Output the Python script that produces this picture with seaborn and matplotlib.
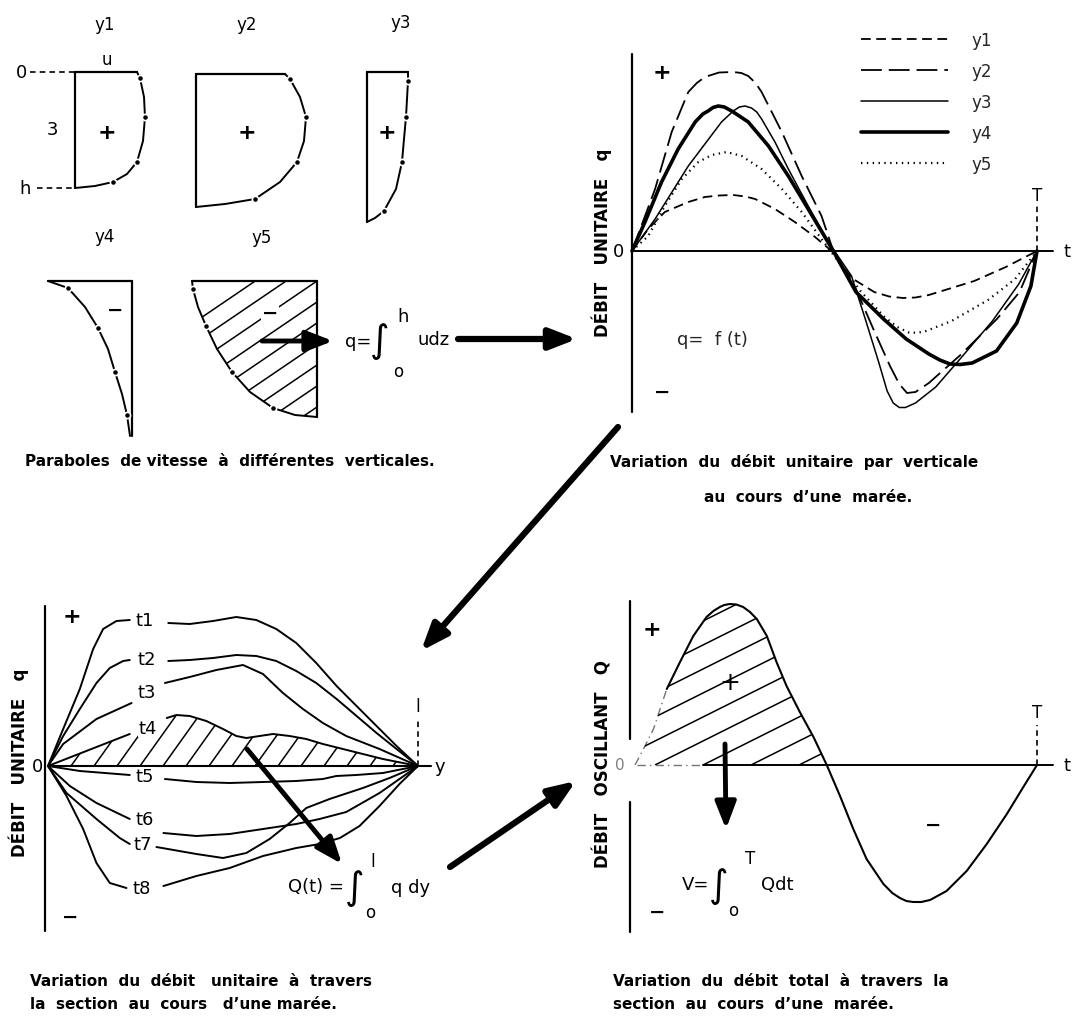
import numpy as np
import matplotlib

matplotlib.use("Agg")
import matplotlib.pyplot as plt
from matplotlib.collections import LineCollection
import seaborn as sns

W, H = 1073, 1020

# ---------------------------------------------------------------- data
# velocity profiles at the five verticals: u (velocity) against z (depth)
y1_u = [6.2, 6.5, 6.9, 7.0, 6.8, 6.2, 5.2, 3.8, 2.0, 0.0]
y1_z = [0.0, 0.6, 2.5, 4.5, 6.9, 9.0, 10.2, 11.0, 11.4, 11.6]
y2_u = [8.9, 9.4, 10.4, 11.0, 10.8, 10.1, 8.4, 5.9, 2.9, 0.0]
y2_z = [0.0, 0.5, 2.3, 4.3, 6.7, 8.8, 10.8, 12.5, 13.0, 13.3]
y3_u = [4.1, 4.1, 4.0, 3.9, 3.7, 3.5, 2.9, 1.7, 0.8, 0.0]
y3_z = [0.0, 0.9, 2.7, 4.5, 6.7, 9.0, 11.7, 13.9, 14.6, 15.0]
y4_u = [-8.4, -6.4, -4.7, -3.4, -2.4, -1.7, -1.0, -0.5, -0.2]
y4_z = [0.0, 0.7, 2.6, 4.7, 6.8, 9.1, 11.3, 13.4, 15.5]
y5_u = [-12.5, -12.4, -11.9, -11.1, -10.0, -8.5, -6.7, -4.4, -2.2, 0.0]
y5_z = [0.0, 0.8, 2.6, 4.5, 6.8, 9.1, 11.1, 12.7, 13.4, 13.6]
measured_idx = [1, 3, 5, 7]

# unit discharge q = f(t) at each vertical over one tide (t in T units)
q_y1_t = [0, .040, .081, .139, .180, .215, .250, .280, .304, .353, .402, .452, .493,
          .542, .598, .635, .669, .700, .733, .845, .923, 1.0]
q_y1 = [0, .22, .39, .49, .54, .555, .56, .545, .52, .42, .29, .14, 0,
        -.27, -.41, -.455, -.47, -.465, -.44, -.30, -.16, 0]
q_y2_t = [0, .057, .098, .139, .160, .180, .215, .250, .270, .287, .305, .320, .370, .419, .468, .497,
          .553, .598, .637, .660, .679, .700, .733, .811, .901, .957, 1.0]
q_y2 = [0, .62, 1.19, 1.59, 1.68, 1.74, 1.785, 1.79, 1.78, 1.75, 1.68, 1.59, 1.19, .75, .35, 0,
        -.38, -.80, -1.15, -1.33, -1.42, -1.41, -1.32, -1.04, -.68, -.41, 0]
q_y3_t = [0, .057, .139, .221, .250, .265, .279, .295, .308, .320, .353, .386, .435, .477, .50,
          .542, .576, .609, .630, .645, .660, .675, .70, .75, .81, .89, .955, 1.0]
q_y3 = [0, .32, .85, 1.29, 1.40, 1.44, 1.45, 1.43, 1.39, 1.32, 1.09, .82, .45, .15, 0,
        -.25, -.68, -1.11, -1.40, -1.52, -1.565, -1.565, -1.52, -1.36, -1.08, -.70, -.33, 0]
q_y4_t = [0, .032, .073, .114, .156, .175, .188, .200, .213, .228, .246, .265, .287, .337, .386, .435, .497,
          .553, .621, .677, .733, .760, .785, .810, .84, .90, .95, .985, 1.0]
q_y4 = [0, .29, .69, 1.02, 1.29, 1.37, 1.40, 1.435, 1.45, 1.44, 1.40, 1.35, 1.29, 1.05, .75, .42, 0,
        -.41, -.68, -.88, -1.03, -1.09, -1.13, -1.135, -1.12, -1.0, -.72, -.35, 0]
q_y5_t = [0, .040, .081, .123, .164, .197, .234, .271, .320, .370, .419, .468, .49,
          .564, .621, .655, .686, .720, .789, .879, .946, 1.0]
q_y5 = [0, .15, .45, .72, .89, .96, .99, .95, .82, .62, .39, .12, 0,
        -.40, -.65, -.76, -.82, -.81, -.70, -.49, -.28, 0]
verticals = ["y1", "y2", "y3", "y4", "y5"]

# unit discharge across the section (y in units of l) at eight instants
t1_s = [0, .041, .086, .122, .149, .185, .221, .27, .325, .383, .446, .509, .563, .617, .671, .725, .780, .834, .888, .942, 1.0]
t1_q = [0, .37, .77, 1.17, 1.37, 1.45, 1.46, np.nan, 1.43, 1.42, 1.45, 1.49, 1.46, 1.37, 1.23, 1.03, .80, .60, .40, .20, 0]
t2_s = [0, .041, .086, .131, .167, .203, .221, .27, .325, .383, .446, .509, .563, .617, .671, .725, .780, .834, .888, .942, 1.0]
t2_q = [0, .30, .57, .83, .98, 1.05, 1.06, np.nan, 1.05, 1.06, 1.08, 1.11, 1.10, 1.05, .95, .83, .67, .50, .33, .17, 0]
t3_s = [0, .041, .131, .226, .27, .316, .383, .455, .527, .581, .635, .689, .743, .806, .896, 1.0]
t3_q = [0, .22, .47, .63, np.nan, .83, .89, .96, 1.01, .92, .73, .57, .43, .30, .17, 0]
t4_s = [0, .221, .27, .321, .347, .383, .428, .473, .509, .536, .572, .608, .653, .698, .743, .797, .851, .905, 1.0]
t4_q = [0, .32, np.nan, .48, .51, .50, .45, .37, .30, .28, .30, .32, .30, .27, .22, .17, .12, .07, 0]
t5_s = [0, .086, .221, .27, .316, .401, .491, .581, .671, .743, .779, .833, .905, 1.0]
t5_q = [0, -.05, -.09, np.nan, -.13, -.16, -.17, -.16, -.15, -.13, -.10, -.09, -.07, 0]
t6_s = [0, .059, .131, .221, .265, .312, .401, .491, .581, .671, .734, .806, .896, 1.0]
t6_q = [0, -.20, -.37, -.53, np.nan, -.67, -.70, -.68, -.63, -.58, -.53, -.46, -.27, 0]
t7_s = [0, .050, .131, .194, .221, .257, .293, .401, .473, .536, .599, .653, .698, .761, .851, .923, 1.0]
t7_q = [0, -.27, -.53, -.72, -.78, np.nan, -.81, -.88, -.92, -.87, -.73, -.57, -.42, -.33, -.22, -.12, 0]
t8_s = [0, .050, .095, .131, .167, .212, .26, .312, .401, .491, .581, .671, .734, .789, .842, .896, .950, 1.0]
t8_q = [0, -.30, -.63, -.97, -1.17, -1.22, np.nan, -1.20, -1.10, -1.02, -.90, -.82, -.78, -.72, -.60, -.40, -.18, 0]
instants = ["t1", "t2", "t3", "t4", "t5", "t6", "t7", "t8"]

# total oscillating discharge Q(t) through the section
Q_tau = [0, .021, .046, .079, .112, .145, .178, .195, .211, .222, .236, .252, .269, .286, .303, .328, .352,
         .377, .410, .444, .477, .510, .543, .576, .618, .640, .659, .675, .692, .712, .734, .775, .825,
         .875, .925, .966, 1.0]
Q_val = [0, .16, .36, .76, 1.03, 1.29, 1.48, 1.54, 1.58, 1.60, 1.61, 1.605, 1.58, 1.53, 1.46, 1.29, 1.03,
         .79, .53, .28, 0, -.31, -.64, -.94, -1.19, -1.28, -1.33, -1.36, -1.37, -1.37, -1.35, -1.26, -1.06,
         -.79, -.49, -.22, 0]

# ---------------------------------------------------------------- style
sns.set_style("white")
plt.rcParams["font.family"] = ["DejaVu Sans"]
plt.rcParams["lines.scale_dashes"] = False
plt.rcParams["lines.solid_capstyle"] = "round"
plt.rcParams["lines.solid_joinstyle"] = "round"

fig = plt.figure(figsize=(W / 100, H / 100), dpi=100)


def panel(box, origin, unit):
    """Axes over a pixel box; data v maps to pixel origin + v * unit (y upward)."""
    x0, y0, x1, y1 = box
    ax = fig.add_axes([x0 / W, 1 - y1 / H, (x1 - x0) / W, (y1 - y0) / H])
    ax.set_xlim((x0 - origin[0]) / unit[0], (x1 - origin[0]) / unit[0])
    ax.set_ylim((origin[1] - y1) / unit[1], (origin[1] - y0) / unit[1])
    ax.axis("off")
    return ax


def curve(ax, x, y, **kw):
    """Draw a line with seaborn, broken where y is NaN (label gaps)."""
    x = np.asarray(x, float)
    y = np.asarray(y, float)
    idx = np.flatnonzero(np.isfinite(y))
    for g in np.split(idx, np.where(np.diff(idx) > 1)[0] + 1):
        sns.lineplot(x=x[g], y=y[g], sort=False, estimator=None, ax=ax, color="k", **kw)


def hatch(ax, poly, starts, direction, lw=1.0):
    """Straight hatch lines from each start along direction, clipped to poly."""
    segs = [[(sx, sy), (sx + direction[0], sy + direction[1])] for sx, sy in starts]
    lc = LineCollection(segs, colors="k", linewidths=lw)
    ax.add_collection(lc)
    lc.set_clip_path(poly.get_paths()[0], ax.transData)


txt = dict(ha="center", va="center", color="k")

# ---------------------------------------------------------------- velocity profiles
ax_tl = panel((0, 0, 560, 455), (0, 0), (10, -10))
profiles = {"y1": (y1_u, y1_z, 7.5, 7.3), "y2": (y2_u, y2_z, 19.6, 7.5), "y3": (y3_u, y3_z, 36.7, 7.3),
            "y4": (y4_u, y4_z, 13.2, 28.2), "y5": (y5_u, y5_z, 31.7, 28.2)}
for name, (u, z, ox, oy) in profiles.items():
    u = np.asarray(u)
    z = np.asarray(z)
    curve(ax_tl, ox + u, oy + z, lw=1.4)
    ax_tl.plot([ox, ox + u[0]], [oy, oy], color="k", lw=1.6)
    ax_tl.plot([ox, ox], [oy, oy + z[-1]], color="k", lw=1.6)
    sns.scatterplot(x=ox + u[measured_idx], y=oy + z[measured_idx], ax=ax_tl, color="k",
                    s=20, edgecolor="white", linewidth=1.2, zorder=3)
    if name == "y5":
        poly = ax_tl.fill_betweenx(oy + z, ox + u, ox, color="none")
        hatch(ax_tl, poly, [(ox, oy + k * 2.1) for k in range(-2, 16)], (-16, 16 * 0.68), lw=1.1)

for name, (x, y) in {"y1": (10.5, 2.5), "y2": (24.7, 2.5), "y3": (40.1, 2.3),
                     "y4": (10.5, 23.7), "y5": (26.2, 23.8)}.items():
    ax_tl.text(x, y, name, fontsize=12, **txt)
ax_tl.text(10.7, 6.0, "u", fontsize=12, **txt)
ax_tl.text(2.2, 7.3, "0", fontsize=13, **txt)
ax_tl.text(5.2, 13.0, "3", fontsize=13, **txt)
ax_tl.text(2.5, 18.9, "h", fontsize=13, **txt)
ax_tl.plot([3.0, 7.5], [7.3, 7.3], color="k", lw=1.2, linestyle=(0, (4, 3)))
ax_tl.plot([3.7, 7.5], [18.9, 18.9], color="k", lw=1.2, linestyle=(0, (4, 3)))
for x in (10.7, 24.7, 38.7):
    ax_tl.text(x, 13.3, "+", fontsize=16, fontweight="bold", **txt)
ax_tl.text(11.5, 31.0, "\u2212", fontsize=14, fontweight="bold", **txt)
ax_tl.text(27.0, 31.3, "\u2212", fontsize=14, fontweight="bold",
           bbox=dict(facecolor="white", edgecolor="none", pad=0.5), zorder=4, **txt)
ax_tl.text(35.8, 34.2, "q=", fontsize=13, **txt)
ax_tl.text(38.0, 34.2, "\u222b", fontsize=27, **txt)
ax_tl.text(40.3, 31.7, "h", fontsize=13, **txt)
ax_tl.text(39.8, 37.2, "o", fontsize=12, **txt)
ax_tl.text(43.4, 34.0, "udz", fontsize=13, **txt)

# ---------------------------------------------------------------- q = f(t)
ax_tr = panel((560, 20, 1073, 440), (632, 252), (405, 100))
styles = {"y1": dict(lw=1.3, linestyle=(0, (7, 4))),
          "y2": dict(lw=1.3, linestyle=(0, (15, 5))),
          "y3": dict(lw=1.1, linestyle="-"),
          "y4": dict(lw=2.6, linestyle="-"),
          "y5": dict(lw=1.6, linestyle=(0, (1, 3.2)))}
series = {"y1": (q_y1_t, q_y1), "y2": (q_y2_t, q_y2), "y3": (q_y3_t, q_y3),
          "y4": (q_y4_t, q_y4), "y5": (q_y5_t, q_y5)}
handles = []
for name in verticals:
    t, q = series[name]
    curve(ax_tr, t, q, **styles[name])
    handles.append(ax_tr.lines[-1])
ax_tr.plot([0, 0], [-1.61, 1.97], color="k", lw=1.6)
ax_tr.plot([0, 1.04], [0, 0], color="k", lw=1.4)
ax_tr.plot([1, 1], [0, 0.45], color="k", lw=1.2, linestyle=(0, (4, 3)))
ax_tr.text(1.0, 0.56, "T", fontsize=12, **txt)
ax_tr.text(1.075, 0, "t", fontsize=13, **txt)
ax_tr.text(-0.033, 0.0, "0", fontsize=13, **txt)
ax_tr.text(0.074, 1.79, "+", fontsize=16, fontweight="bold", **txt)
ax_tr.text(0.074, -1.40, "\u2212", fontsize=14, fontweight="bold", **txt)
ax_tr.text(0.11, -0.88, "q=  f (t)", fontsize=13, ha="left", va="center")
ax_tr.text(-0.075, 0.09, "DÉBIT   UNITAIRE   q", fontsize=12, fontweight="bold", rotation=90, **txt)
ax_tr.legend(handles, verticals, loc="upper left", bbox_to_anchor=(861 / W, 1 - 32 / H),
             bbox_transform=fig.transFigure, frameon=False, fontsize=12, handlelength=5.2,
             handletextpad=1.4, labelspacing=0.78, borderpad=0, borderaxespad=0)

# ---------------------------------------------------------------- q across the section
ax_bl = panel((0, 580, 470, 945), (48, 767), (370, 100))
profiles_t = {"t1": (t1_s, t1_q), "t2": (t2_s, t2_q), "t3": (t3_s, t3_q), "t4": (t4_s, t4_q),
              "t5": (t5_s, t5_q), "t6": (t6_s, t6_q), "t7": (t7_s, t7_q), "t8": (t8_s, t8_q)}
label_pos = {"t1": (.262, 1.46), "t2": (.268, 1.07), "t3": (.268, .74), "t4": (.27, .38),
             "t5": (.262, -.10), "t6": (.262, -.53), "t7": (.257, -.78), "t8": (.254, -1.22)}
for name in instants:
    s, q = profiles_t[name]
    curve(ax_bl, s, q, lw=1.4)
    ax_bl.text(*label_pos[name], name, fontsize=13, zorder=5,
               bbox=dict(facecolor="white", edgecolor="none", pad=0.3), **txt)
s4 = np.asarray(t4_s)
q4 = np.asarray(t4_q)
ok = np.isfinite(q4)
poly = ax_bl.fill_between(s4[ok], q4[ok], 0, color="none")
hatch(ax_bl, poly, [(k * 23 / 370, 0) for k in range(0, 18)], (0.13, 0.13 * 5.18), lw=1.1)
ax_bl.plot([-0.008, -0.008], [-1.65, 1.6], color="k", lw=1.6)
ax_bl.plot([0, 1.035], [0, 0], color="k", lw=1.5)
ax_bl.plot([1, 1], [0, 0.47], color="k", lw=1.2, linestyle=(0, (4, 3)))
ax_bl.text(1.0, 0.60, "l", fontsize=12, **txt)
ax_bl.text(1.06, 0.0, "y", fontsize=13, **txt)
ax_bl.text(-0.028, 0.0, "0", fontsize=13, **txt)
ax_bl.text(0.065, 1.50, "+", fontsize=16, fontweight="bold", **txt)
ax_bl.text(0.06, -1.50, "\u2212", fontsize=14, fontweight="bold", **txt)
ax_bl.text(-0.078, 0.04, "DÉBIT   UNITAIRE   q", fontsize=12, fontweight="bold", rotation=90, **txt)
ax_bl.text(0.724, -1.20, "Q(t) =", fontsize=13, **txt)
ax_bl.text(0.828, -1.22, "\u222b", fontsize=27, **txt)
ax_bl.text(0.878, -0.95, "l", fontsize=12, **txt)
ax_bl.text(0.872, -1.46, "o", fontsize=12, **txt)
ax_bl.text(0.98, -1.21, "q dy", fontsize=13, **txt)

# ---------------------------------------------------------------- Q(t)
ax_br = panel((590, 580, 1073, 945), (635, 766), (402, 100))
tau = np.asarray(Q_tau)
Qv = np.asarray(Q_val)
curve(ax_br, tau[:4], Qv[:4], lw=1.0, linestyle=(0, (6, 3, 1, 3)), alpha=0.55)
curve(ax_br, tau[3:], Qv[3:], lw=1.5)
pos = tau <= 0.477
poly = ax_br.fill_between(tau[pos], Qv[pos], 0, color="none")
hatch(ax_br, poly, [((703 - 635) / 402 + k * 48 / 402, 0) for k in range(-8, 3)], (0.9, 0.9 * 2.01), lw=1.1)
ax_br.plot([-0.012, -0.012], [0.26, 1.64], color="k", lw=1.6)
ax_br.plot([-0.012, -0.012], [-1.67, -0.37], color="k", lw=1.6)
ax_br.plot([0.004, 0.17], [0, 0], color="k", lw=1.0, alpha=0.55, linestyle=(0, (6, 3, 1, 3)))
ax_br.plot([0.17, 1.04], [0, 0], color="k", lw=1.4)
ax_br.plot([1, 1], [0, 0.40], color="k", lw=1.2, linestyle=(0, (4, 3)))
ax_br.text(1.0, 0.53, "T", fontsize=12, **txt)
ax_br.text(1.075, 0.0, "t", fontsize=13, **txt)
ax_br.text(-0.037, 0.0, "0", fontsize=11, alpha=0.5, **txt)
ax_br.text(0.042, 1.36, "+", fontsize=16, fontweight="bold", **txt)
ax_br.text(0.055, -1.46, "\u2212", fontsize=14, fontweight="bold", **txt)
ax_br.text(0.741, -0.59, "\u2212", fontsize=14, fontweight="bold", **txt)
ax_br.text(0.236, 0.83, "+", fontsize=18, **txt)
ax_br.text(-0.08, 0.02, "DÉBIT   OSCILLANT   Q", fontsize=12, fontweight="bold", rotation=90, **txt)
ax_br.text(0.150, -1.19, "V=", fontsize=13, **txt)
ax_br.text(0.208, -1.21, "\u222b", fontsize=27, **txt)
ax_br.text(0.286, -0.93, "T", fontsize=12, **txt)
ax_br.text(0.245, -1.45, "o", fontsize=12, **txt)
ax_br.text(0.355, -1.19, "Qdt", fontsize=13, **txt)

# ---------------------------------------------------------------- arrows and captions
ax_o = fig.add_axes([0, 0, 1, 1])
ax_o.set_xlim(0, W)
ax_o.set_ylim(H, 0)
ax_o.axis("off")


def arrow(p0, p1, lw=4.5):
    ax_o.annotate("", xy=p1, xytext=p0,
                  arrowprops=dict(arrowstyle="-|>,head_length=0.9,head_width=0.35", lw=lw, color="k",
                                  mutation_scale=18, shrinkA=0, shrinkB=0))


arrow((262, 342), (333, 342), lw=3.5)
arrow((458, 340), (577, 340))
arrow((618, 428), (421, 652))
arrow((247, 750), (342, 865), lw=3.5)
arrow((450, 868), (576, 782))
arrow((725, 745), (726, 830), lw=3.5)

cap = dict(fontsize=11, fontweight="bold", va="center", color="k")
fig.text(25 / W, 1 - 462 / H, "Paraboles  de vitesse  à  différentes  verticales.", ha="left", **cap)
fig.text(610 / W, 1 - 462 / H, "Variation  du  débit  unitaire  par  verticale", ha="left", **cap)
fig.text(808 / W, 1 - 497 / H, "au  cours  d\u2019une  marée.", ha="center", **cap)
fig.text(30 / W, 1 - 982 / H, "Variation  du  débit   unitaire  à  travers", ha="left", **cap)
fig.text(30 / W, 1 - 1005 / H, "la  section  au  cours   d\u2019une marée.", ha="left", **cap)
fig.text(613 / W, 1 - 982 / H, "Variation  du  débit  total  à  travers  la", ha="left", **cap)
fig.text(613 / W, 1 - 1005 / H, "section  au  cours  d\u2019une  marée.", ha="left", **cap)

fig.savefig("out.png", dpi=100)
